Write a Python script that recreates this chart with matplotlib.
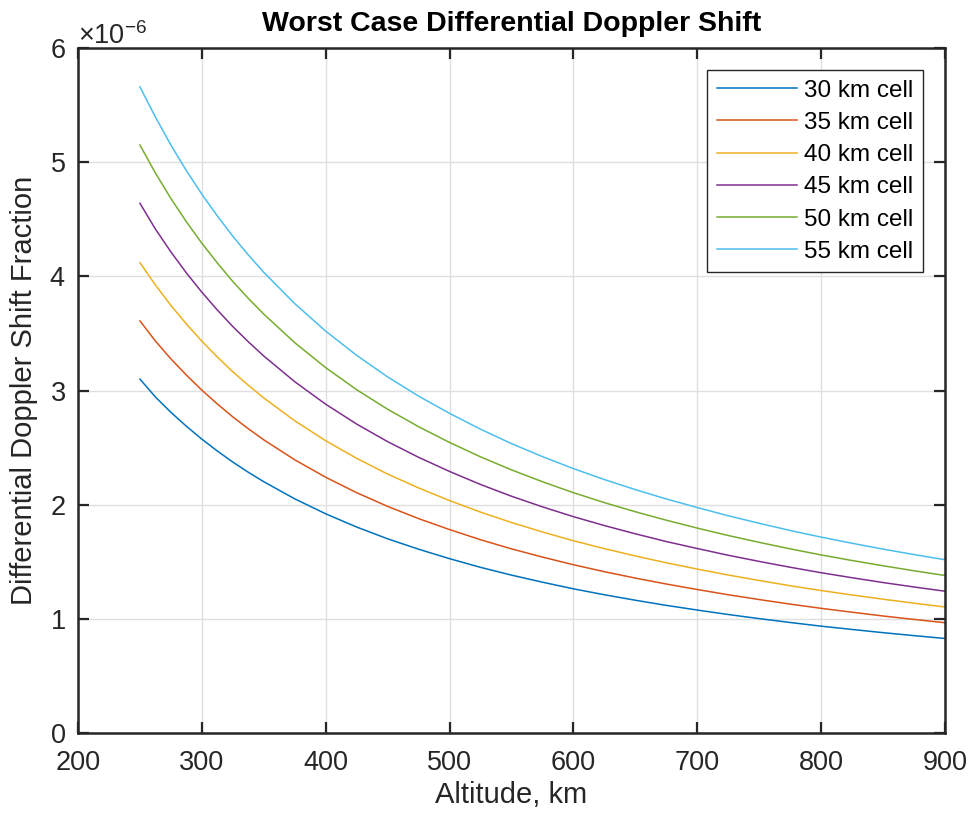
import matplotlib
matplotlib.use("Agg")
import matplotlib.pyplot as plt
from matplotlib.ticker import ScalarFormatter

plt.rcParams.update({
    "font.family": ["Liberation Sans", "DejaVu Sans"],
    "mathtext.fontset": "custom",
    "mathtext.rm": "Liberation Sans",
    "mathtext.it": "Liberation Sans",
    "mathtext.default": "regular",
})

# altitude (km) and differential Doppler shift fraction (x1e-6)
altitude = [250, 262.5, 275, 287.5, 300, 312.5, 325, 337.5, 350, 375, 400, 425,
            450, 475, 500, 525, 550, 575, 600, 625, 650, 675, 700, 725, 750,
            775, 800, 825, 850, 875, 900]

cell_30 = [3.100, 2.943, 2.809, 2.687, 2.574, 2.470, 2.373, 2.284, 2.201, 2.051,
           1.920, 1.804, 1.701, 1.610, 1.527, 1.451, 1.383, 1.321, 1.263, 1.211,
           1.163, 1.118, 1.077, 1.038, 1.002, 0.968, 0.936, 0.907, 0.879, 0.853,
           0.828]
cell_35 = [3.610, 3.433, 3.277, 3.135, 3.003, 2.882, 2.769, 2.665, 2.568, 2.393,
           2.240, 2.105, 1.985, 1.878, 1.782, 1.693, 1.613, 1.541, 1.474, 1.413,
           1.357, 1.305, 1.257, 1.211, 1.169, 1.129, 1.092, 1.058, 1.025, 0.995,
           0.966]
cell_40 = [4.120, 3.924, 3.745, 3.583, 3.432, 3.293, 3.164, 3.046, 2.935, 2.735,
           2.560, 2.406, 2.268, 2.147, 2.036, 1.935, 1.844, 1.761, 1.684, 1.615,
           1.551, 1.491, 1.436, 1.384, 1.336, 1.290, 1.248, 1.209, 1.172, 1.137,
           1.104]
cell_45 = [4.640, 4.414, 4.214, 4.030, 3.861, 3.705, 3.560, 3.427, 3.302, 3.077,
           2.880, 2.706, 2.552, 2.415, 2.291, 2.177, 2.074, 1.981, 1.895, 1.817,
           1.745, 1.677, 1.616, 1.557, 1.503, 1.452, 1.404, 1.360, 1.318, 1.279,
           1.242]
cell_50 = [5.150, 4.905, 4.682, 4.478, 4.290, 4.117, 3.955, 3.807, 3.669, 3.419,
           3.200, 3.007, 2.836, 2.683, 2.545, 2.419, 2.305, 2.201, 2.105, 2.018,
           1.938, 1.864, 1.795, 1.730, 1.670, 1.613, 1.560, 1.511, 1.465, 1.421,
           1.380]
cell_55 = [5.660, 5.395, 5.150, 4.926, 4.719, 4.529, 4.351, 4.188, 4.035, 3.761,
           3.520, 3.308, 3.119, 2.951, 2.800, 2.661, 2.535, 2.421, 2.316, 2.220,
           2.132, 2.050, 1.975, 1.903, 1.837, 1.774, 1.716, 1.662, 1.611, 1.563,
           1.518]

labels = ["30 km cell", "35 km cell", "40 km cell",
          "45 km cell", "50 km cell", "55 km cell"]
series = [cell_30, cell_35, cell_40, cell_45, cell_50, cell_55]

# MATLAB default line colours
colors = ["#0072BD", "#D95319", "#EDB120", "#7E2F8E", "#77AC30", "#4DBEEE"]
DARK = "#262626"

fig = plt.figure(figsize=(9.68, 8.14), dpi=100)
ax = fig.add_axes([0.0806, 0.0995, 0.8956, 0.8415])

for vals, lab, c in zip(series, labels, colors):
    ax.plot(altitude, [v * 1e-6 for v in vals], color=c, lw=1.1, label=lab)

ax.set_xlim(200, 900)
ax.set_ylim(0, 6e-6)
ax.set_xticks(range(200, 901, 100))
ax.set_yticks([i * 1e-6 for i in range(7)])

fmt = ScalarFormatter(useMathText=True)
fmt.set_powerlimits((-3, 3))
ax.yaxis.set_major_formatter(fmt)

ax.grid(True, color="#e0e0e0", lw=1.0)
ax.set_axisbelow(True)
for s in ax.spines.values():
    s.set_linewidth(1.8)
    s.set_color(DARK)
ax.tick_params(direction="in", length=8, width=1.6, colors=DARK,
               labelsize=19.5, top=True, right=True)
ax.tick_params(axis="x", pad=12)
ax.tick_params(axis="y", pad=9)
ax.yaxis.get_offset_text().set_fontsize(19.5)
ax.yaxis.get_offset_text().set_color(DARK)

ax.set_xlabel("Altitude, km", fontsize=21, color=DARK, labelpad=4)
ax.set_ylabel("Differential Doppler Shift Fraction", fontsize=21, color=DARK,
              labelpad=8)
ax.set_title("Worst Case Differential Doppler Shift", fontsize=20.5,
             fontweight="bold", pad=12)

leg = ax.legend(loc="upper right", fontsize=17.5, frameon=True, fancybox=False,
                edgecolor=DARK, framealpha=1, handlelength=3.3,
                handletextpad=0.3, labelspacing=0.42, borderaxespad=0.9,
                borderpad=0.4)
leg.get_frame().set_linewidth(1.0)

fig.savefig("out.png", dpi=100, facecolor="white")
